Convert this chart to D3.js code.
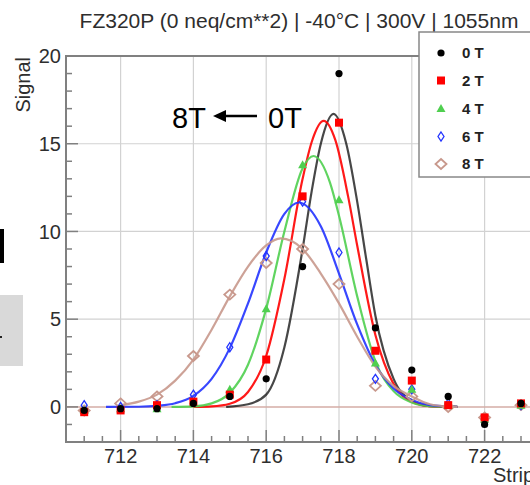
<!DOCTYPE html>
<html><head><meta charset="utf-8">
<script src="https://cdn.jsdelivr.net/npm/d3@7"></script>
<style>html,body{margin:0;padding:0;background:#fff;}svg{display:block;}</style>
</head><body>
<svg id="c" width="530" height="485"></svg>
<script>
// ---- data ----
const strips = [711,712,713,714,715,716,717,718,719,720,721,722,723];
const series = ["0 T","2 T","4 T","6 T","8 T"];
const sig0T = [-0.2,-0.1,-0.1,0.2,0.6,1.6,8.0,19.0,4.5,2.1,0.6,-1.0,0.2];
const sig2T = [-0.3,-0.2,0.1,0.3,0.7,2.7,12.0,16.2,3.2,1.5,0.1,-0.6,0.2];
const sig4T = [-0.2,-0.1,-0.1,0.2,1.0,5.6,13.8,11.8,2.5,1.0,0.1,-0.7,0.1];
const sig6T = [0.1,0.0,0.1,0.7,3.4,8.6,11.7,8.8,1.6,1.0,0.2,-0.8,0.1];
const sig8T = [-0.2,0.2,0.6,2.9,6.4,8.2,9.0,7.0,1.2,0.6,0.0,-0.6,0.1];
// fitted curves
const fitX0 = [714.9,715.5,716,716.5,717,717.25,717.5,717.85,718.2,718.5,718.75,719,719.5,720,720.5,721.25];
const fitY0 = [0,0.15,0.7,3.4,9.0,12.3,15.0,16.7,15.0,11.7,8.4,5.2,1.6,0.35,0.04,0];
const fitX2 = [714,714.5,715,715.5,716,716.5,717,717.25,717.58,717.9,718.25,718.5,719,719.5,720,720.5,721.25];
const fitY2 = [0,0.03,0.18,0.85,2.9,7.3,13.0,15.1,16.3,15.2,12.0,9.2,4.1,1.3,0.3,0.05,0];
const fitX4 = [713.4,714,714.5,715,715.5,716,716.5,717,717.3,717.75,718,718.5,719,719.5,720,720.5,721.25];
const fitY4 = [0,0.03,0.2,0.8,2.4,5.6,10.0,13.6,14.3,12.8,10.9,6.3,2.6,0.9,0.25,0.04,0];
const fitX6 = [711.6,712.5,713,713.5,714,714.5,715,715.5,716,716.5,716.9,717.5,718,718.5,719,719.5,720,720.5,721.25];
const fitY6 = [0,0.01,0.06,0.21,0.63,1.6,3.35,5.9,8.8,11.0,11.65,10.3,7.6,4.7,2.4,1.05,0.4,0.1,0];
const fitX8 = [712,712.5,713,713.5,714,714.5,715,715.5,716,716.4,717,717.5,718,718.5,719,719.5,720,720.5,721,721.25];
const fitY8 = [0.1,0.3,0.7,1.5,2.7,4.4,6.3,8.0,9.2,9.6,9.0,7.6,5.9,4.0,2.3,1.2,0.6,0.15,0.02,0];
const xTickLabels = ["712","714","716","718","720","722"];
const yTickLabels = ["0","5","10","15","20"];
const titleText = "FZ320P (0 neq/cm**2) | -40°C | 300V | 1055nm";

const colors = ["#000000","#ff0000","#4fcf4f","#2233ff","#c8988c"];
const sigs = [sig0T,sig2T,sig4T,sig6T,sig8T];
const fitsX = [fitX0,fitX2,fitX4,fitX6,fitX8];
const fitsY = [fitY0,fitY2,fitY4,fitY6,fitY8];

const svg = d3.select("#c");
const font = "'Liberation Sans', Arial, sans-serif";
const x = d3.scaleLinear().domain([710.5,723.5]).range([66,539.2]);
const y = d3.scaleLinear().domain([-2,20]).range([442,56]);

// left-side artifacts from the slide
svg.append("rect").attr("x",0).attr("y",229).attr("width",4).attr("height",34).attr("fill","#000");
svg.append("rect").attr("x",0).attr("y",295).attr("width",23).attr("height",71).attr("fill","#d9d9d9");
svg.append("rect").attr("x",0).attr("y",336).attr("width",2).attr("height",2).attr("fill","#222");

// grid
const g = svg.append("g");
g.selectAll("line.vg").data(xTickLabels).enter().append("line")
  .attr("x1",d=>x(+d)).attr("x2",d=>x(+d)).attr("y1",y(20)).attr("y2",y(-2))
  .attr("stroke","#d2d2d2").attr("stroke-width",1.2);
g.selectAll("line.hg").data(yTickLabels.slice(1,4)).enter().append("line")
  .attr("x1",x(710.5)).attr("x2",x(723.5)).attr("y1",d=>y(+d)).attr("y2",d=>y(+d))
  .attr("stroke","#d2d2d2").attr("stroke-width",1.2);
g.append("line").attr("x1",x(710.5)).attr("x2",x(723.5)).attr("y1",y(0)).attr("y2",y(0))
  .attr("stroke","#d4aca6").attr("stroke-width",1.5);

// ticks
const axc = "#808080";
d3.range(-2,20.001,1).forEach(v=>{
  const L = (v%5===0)?12:6;
  svg.append("line").attr("x1",x(710.5)).attr("x2",x(710.5)+L).attr("y1",y(v)).attr("y2",y(v))
    .attr("stroke",axc).attr("stroke-width",1.5);
});
d3.range(711,723.01,0.5).forEach(v=>{
  const L = (v%2===0)?12:6;
  svg.append("line").attr("x1",x(v)).attr("x2",x(v)).attr("y1",y(-2)).attr("y2",y(-2)-L)
    .attr("stroke",axc).attr("stroke-width",1.5);
});
// frame
svg.append("line").attr("x1",x(710.5)).attr("x2",x(710.5)).attr("y1",y(20)-1).attr("y2",y(-2)+1).attr("stroke",axc).attr("stroke-width",2);
svg.append("line").attr("x1",x(710.5)).attr("x2",x(723.5)).attr("y1",y(-2)).attr("y2",y(-2)).attr("stroke",axc).attr("stroke-width",2);
svg.append("line").attr("x1",x(710.5)).attr("x2",x(723.5)).attr("y1",y(20)).attr("y2",y(20)).attr("stroke",axc).attr("stroke-width",2);

// fit curves
const line = d3.line().x(d=>x(d[0])).y(d=>y(d[1])).curve(d3.curveMonotoneX);
fitsX.forEach((fx,i)=>{
  svg.append("path").attr("d",line(fx.map((v,j)=>[v,fitsY[i][j]])))
    .attr("fill","none").attr("stroke",colors[i]).attr("stroke-width",2.2)
    .attr("stroke-opacity",i===0?0.72:0.9);
});

// markers
function marker(sel,i,cx,cy){
  const c = colors[i];
  if(i===0) sel.append("circle").attr("cx",cx).attr("cy",cy).attr("r",3.6).attr("fill",c);
  else if(i===1) sel.append("rect").attr("x",cx-4).attr("y",cy-4).attr("width",8).attr("height",8).attr("fill",c);
  else if(i===2) sel.append("path").attr("d",`M${cx},${cy-4.5}L${cx+4.5},${cy+3.5}L${cx-4.5},${cy+3.5}Z`).attr("fill",c);
  else if(i===3) sel.append("path").attr("d",`M${cx},${cy-4.5}L${cx+3},${cy}L${cx},${cy+4.5}L${cx-3},${cy}Z`).attr("fill","none").attr("stroke",c).attr("stroke-width",1.3);
  else sel.append("path").attr("d",`M${cx},${cy-5}L${cx+5.5},${cy}L${cx},${cy+5}L${cx-5.5},${cy}Z`).attr("fill","none").attr("stroke",c).attr("stroke-width",1.8);
}
const mg = svg.append("g");
[4,3,2,1,0].forEach(i=>{
  sigs[i].forEach((v,j)=>marker(mg,i,x(strips[j]),y(v)));
});

// tick labels
const tc = "#2e2e2e";
svg.selectAll("text.yl").data(yTickLabels).enter().append("text")
  .attr("x",61).attr("y",d=>y(+d)).attr("dy","0.36em").attr("text-anchor","end")
  .attr("font-family",font).attr("font-size",20).attr("fill",tc).text(d=>d);
svg.selectAll("text.xl").data(xTickLabels).enter().append("text")
  .attr("x",d=>x(+d)).attr("y",463).attr("text-anchor","middle")
  .attr("font-family",font).attr("font-size",20).attr("fill",tc).text(d=>d);
svg.append("text").attr("x",493).attr("y",482).attr("font-family",font).attr("font-size",20).attr("fill",tc).text("Strip");
svg.append("text").attr("transform","translate(30,57) rotate(-90)").attr("text-anchor","end")
  .attr("font-family",font).attr("font-size",20).attr("fill",tc).text("Signal");
svg.append("text").attr("x",299).attr("y",28).attr("text-anchor","middle")
  .attr("font-family",font).attr("font-size",21).attr("fill",tc).text(titleText);

// legend
svg.append("rect").attr("x",419).attr("y",32).attr("width",130).attr("height",145)
  .attr("fill","#fff").attr("stroke","#888").attr("stroke-width",1.5);
const ly = [53,80.5,108.5,136.5,164];
series.forEach((s,i)=>{
  marker(svg,i,441,ly[i]);
  svg.append("text").attr("x",462).attr("y",ly[i]).attr("dy","0.36em")
    .attr("font-family",font).attr("font-weight","bold").attr("font-size",15).attr("fill","#222").text(s);
});

// annotation
svg.append("text").attr("x",172).attr("y",128).attr("font-family",font).attr("font-size",29).attr("fill","#000").text("8T");
svg.append("text").attr("x",268).attr("y",128).attr("font-family",font).attr("font-size",29).attr("fill","#000").text("0T");
svg.append("line").attr("x1",257).attr("x2",222).attr("y1",116).attr("y2",116).attr("stroke","#000").attr("stroke-width",2.5);
svg.append("path").attr("d","M213,116L226,110L226,122Z").attr("fill","#000");
</script>
</body></html>
